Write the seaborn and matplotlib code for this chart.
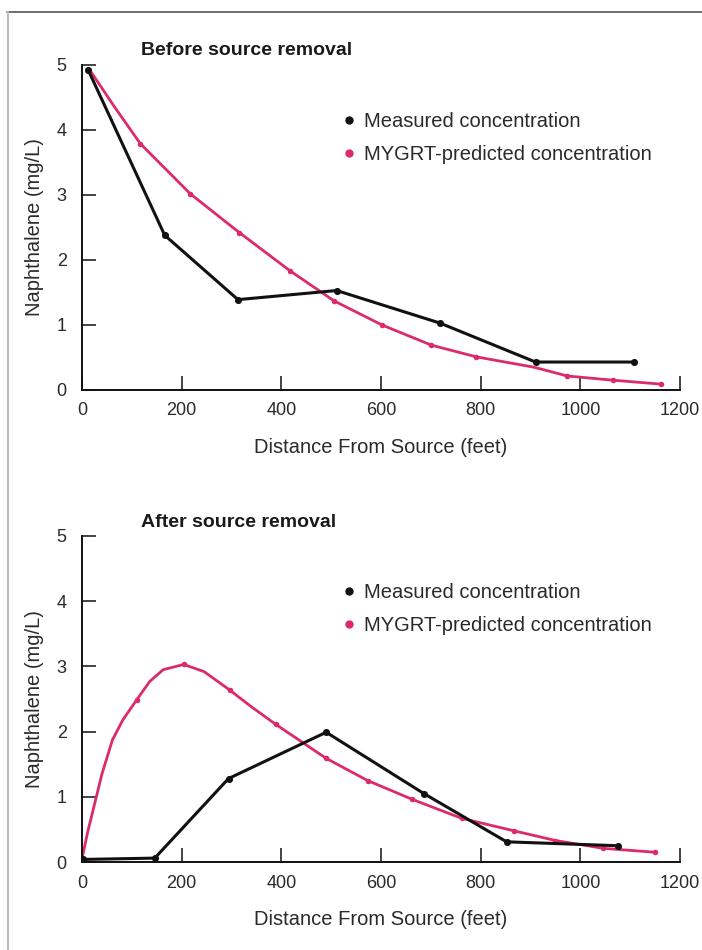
import matplotlib
matplotlib.use("Agg")
import matplotlib.pyplot as plt
from matplotlib.lines import Line2D
import pandas as pd
import seaborn as sns

# ---- data: naphthalene concentration vs distance from source ----
x_ticks = [0, 200, 400, 600, 800, 1000, 1200]
y_ticks = [0, 1, 2, 3, 4, 5]

# Before source removal
before_meas_x = [12, 166, 313, 511, 718, 910, 1107]
before_meas_y = [4.93, 2.38, 1.39, 1.53, 1.03, 0.43, 0.43]
before_pred_x = [13, 36, 63, 117, 217, 316, 418, 506, 602, 701, 791, 907, 974, 1066, 1162]
before_pred_y = [4.95, 4.69, 4.38, 3.79, 3.02, 2.42, 1.83, 1.37, 1.00, 0.69, 0.51, 0.35, 0.215, 0.15, 0.09]
before_pred_dots = [117, 217, 316, 418, 506, 602, 701, 791, 974, 1066, 1162]

# After source removal
after_meas_x = [2, 146, 294, 490, 686, 852, 1075]
after_meas_y = [0.04, 0.06, 1.28, 1.99, 1.05, 0.31, 0.25]
after_pred_x = [0, 12, 24, 40, 61, 82, 110, 136, 163, 204, 245, 296, 340, 389,
                490, 573, 663, 762, 866, 950, 1046, 1150]
after_pred_y = [0.05, 0.48, 0.85, 1.35, 1.87, 2.18, 2.49, 2.77, 2.95, 3.03, 2.92, 2.64, 2.38, 2.11,
                1.59, 1.25, 0.96, 0.67, 0.48, 0.33, 0.21, 0.15]
after_pred_dots = [110, 204, 296, 389, 490, 573, 663, 762, 866, 950, 1046, 1150]

titles = ["Before source removal", "After source removal"]
legend_labels = ["Measured concentration", "MYGRT-predicted concentration"]
x_label = "Distance From Source (feet)"
y_label = "Naphthalene (mg/L)"

BLACK = "#111111"
PINK = "#dc2a6c"
TEXT = "#2a2a2a"

sns.set_theme(style="white")
plt.rcParams["font.family"] = ["Liberation Sans", "DejaVu Sans"]

fig = plt.figure(figsize=(7.02, 9.50), dpi=100)
fig.patch.set_facecolor("white")

panels = [
    (before_meas_x, before_meas_y, before_pred_x, before_pred_y, before_pred_dots,
     [0.1168, 0.5895, 0.8519, 0.3421], 0.947),
    (after_meas_x, after_meas_y, after_pred_x, after_pred_y, after_pred_dots,
     [0.1168, 0.0926, 0.8519, 0.3432], 0.4495),
]

for i, (mx, my, px, py, pdots, rect, ty) in enumerate(panels):
    ax = fig.add_axes(rect)
    meas = pd.DataFrame({"x": mx, "y": my})
    pred = pd.DataFrame({"x": px, "y": py})
    pred_dots = pred[pred["x"].isin(pdots)]

    sns.lineplot(data=pred, x="x", y="y", ax=ax, color=PINK, linewidth=2.0,
                 sort=False, estimator=None, zorder=2)
    sns.scatterplot(data=pred_dots, x="x", y="y", ax=ax, color=PINK, s=16,
                    linewidth=0, zorder=3)
    sns.lineplot(data=meas, x="x", y="y", ax=ax, color=BLACK, linewidth=2.2,
                 sort=False, estimator=None, zorder=4)
    sns.scatterplot(data=meas, x="x", y="y", ax=ax, color=BLACK, s=26,
                    linewidth=0, zorder=5)

    ax.set_xlim(0, 1200)
    ax.set_ylim(0, 5)
    ax.set_xticks(x_ticks)
    ax.set_yticks(y_ticks)
    ax.set_xticklabels([str(v) for v in x_ticks])
    ax.set_yticklabels([str(v) for v in y_ticks])
    ax.tick_params(axis="both", which="major", bottom=True, left=True,
                   direction="in", length=10, width=1.1, color=BLACK,
                   labelsize=13, labelcolor=TEXT)
    ax.tick_params(axis="x", pad=9)
    ax.tick_params(axis="y", pad=11)
    for side in ("top", "right"):
        ax.spines[side].set_visible(False)
    for side in ("left", "bottom"):
        ax.spines[side].set_color(BLACK)
        ax.spines[side].set_linewidth(1.4)
    ax.set_facecolor("white")

    ax.set_xlabel(x_label, fontsize=14.5, color=TEXT, labelpad=13)
    ax.set_ylabel(y_label, fontsize=14.5, color=TEXT, labelpad=9)

    handles = [
        Line2D([], [], linestyle="none", marker="o", markersize=5,
               markerfacecolor=BLACK, markeredgecolor=BLACK),
        Line2D([], [], linestyle="none", marker="o", markersize=5,
               markerfacecolor=PINK, markeredgecolor=PINK),
    ]
    ax.legend(handles, legend_labels, loc="upper left",
              bbox_to_anchor=(0.42, 0.88), frameon=False, fontsize=14.5,
              handlelength=0.8, handletextpad=0.35, labelspacing=0.7,
              borderaxespad=0, labelcolor=TEXT)

    fig.text(0.2009, ty, titles[i], fontsize=14, fontweight="bold",
             color="#1a1a1a", ha="left", va="center")

# scanned-page frame edges
fig.add_artist(Line2D([0.010, 1.0], [1 - 12 / 950, 1 - 12 / 950],
                      color="#555555", linewidth=1.2))
fig.add_artist(Line2D([0.012, 0.012], [0.0, 1 - 12 / 950],
                      color="#bbbbbb", linewidth=1.5))

fig.savefig("out.png", dpi=100, facecolor="white")
